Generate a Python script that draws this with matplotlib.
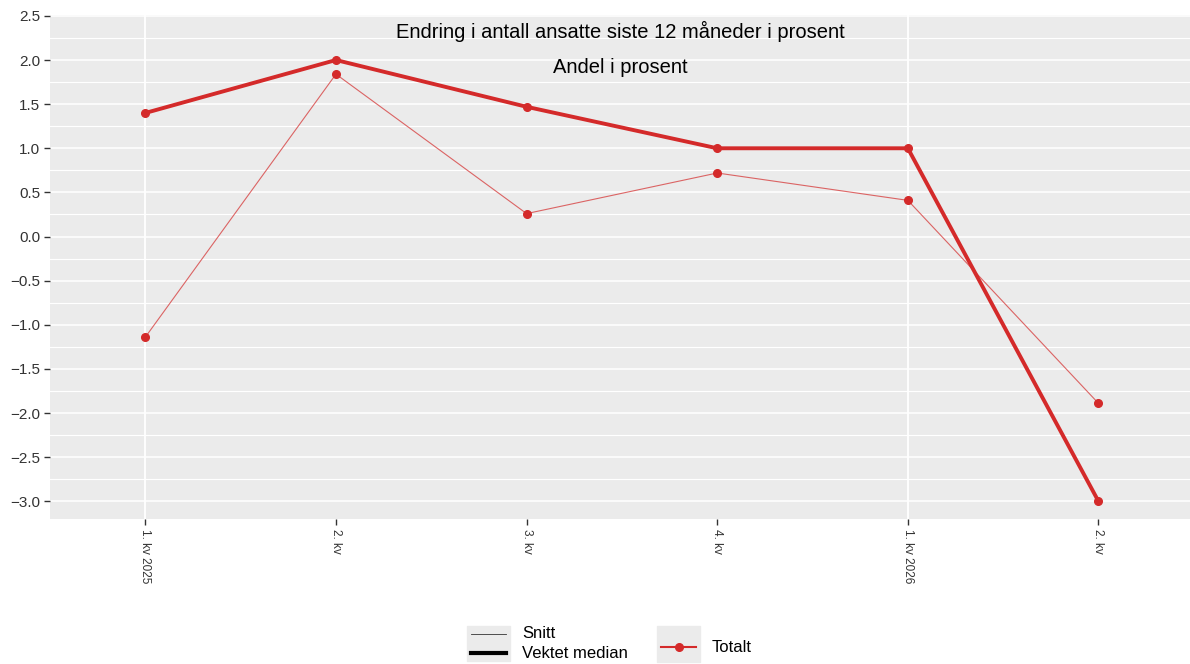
import numpy as np
import matplotlib.pyplot as plt
from matplotlib.lines import Line2D
from matplotlib.patches import Rectangle

plt.rcParams["font.family"] = ["Liberation Sans", "DejaVu Sans"]

# datas
kvartal = ["1. kv 2025", "2. kv", "3. kv", "4. kv", "1. kv 2026", "2. kv"]
snitt = [-1.14, 1.84, 0.26, 0.72, 0.41, -1.89]
vektet_median = [1.40, 2.00, 1.47, 1.00, 1.00, -3.00]
y_ticks = np.arange(-3.0, 2.51, 0.5)

red = "#D42A2A"
panel = "#EBEBEB"

# create a figure
fig = plt.figure(figsize=(11.9, 6.64), dpi=100)
ax = fig.add_axes([50/1190, 1-519/664, 1-50/1190, (519-15)/664])
ax.set_facecolor(panel)
for s in ax.spines.values():
    s.set_visible(False)

x = np.arange(len(kvartal))

# grid lines
for v in np.arange(-3.25, 2.51, 0.25):
    ax.axhline(v, color="white", lw=1.1 if v % 0.5 == 0 else 0.8, zorder=0)
for i, k in enumerate(kvartal):
    if "20" in k:
        ax.axvline(i, color="white", lw=1.3, zorder=0)

# plot datas
ax.plot(x, snitt, color=red, lw=0.8, alpha=0.7, zorder=2)
ax.plot(x, snitt, ls="none", marker="o", ms=5.5, color=red, zorder=3)
ax.plot(x, vektet_median, color=red, lw=2.8, marker="o", ms=5.5, zorder=4)

ax.set_xlim(-0.5, 5.48)
ax.set_ylim(-3.2, 2.51)
ax.set_yticks(y_ticks)
ax.set_yticklabels([f"{v:.1f}".replace("-", "\u2212") for v in y_ticks])
ax.set_xticks(x)
ax.set_xticklabels(kvartal, rotation=-90, fontsize=8.5, color="#333333")
ax.tick_params(axis="y", labelsize=11, colors="#333333", length=4, width=1, pad=3)
ax.tick_params(axis="x", length=4, width=1, colors="#333333", pad=3)

# titles inside panel
ax.text(0.5, 0.967, "Endring i antall ansatte siste 12 måneder i prosent",
        transform=ax.transAxes, ha="center", va="center", fontsize=14.5)
ax.text(0.5, 0.896, "Andel i prosent", transform=ax.transAxes,
        ha="center", va="center", fontsize=14.5)

# legend drawn in pixel coords
lg = fig.add_axes([0, 0, 1, 1], zorder=-1)
lg.set_xlim(0, 1190)
lg.set_ylim(664, 0)
lg.axis("off")
lg.add_patch(Rectangle((467, 626), 43, 35, color=panel))
lg.add_line(Line2D([471, 506], [634, 634], color="#333333", lw=0.6))
lg.add_line(Line2D([471, 506], [653, 653], color="black", lw=3))
lg.text(522, 634, "Snitt", va="center", fontsize=12)
lg.text(522, 653, "Vektet median", va="center", fontsize=12)
lg.add_patch(Rectangle((657, 626), 43, 36, color=panel))
lg.add_line(Line2D([661, 696], [647, 647], color=red, lw=1.5))
lg.add_line(Line2D([678.5], [647], color=red, marker="o", ms=5.5))
lg.text(712, 647, "Totalt", va="center", fontsize=12)

fig.savefig("out.png", dpi=100)
